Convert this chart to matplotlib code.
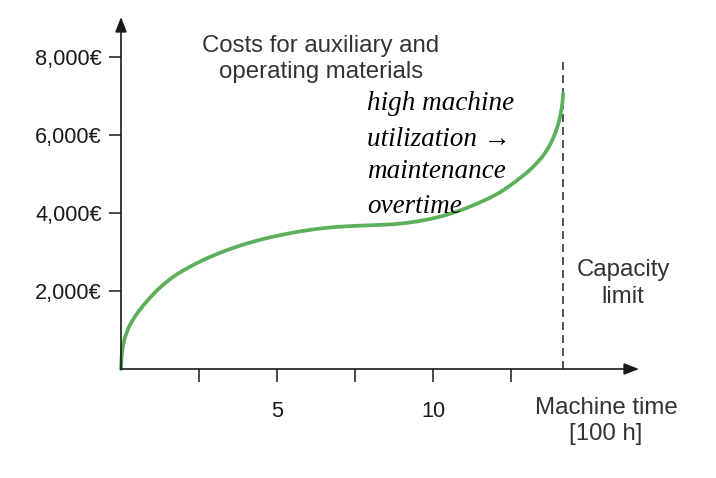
import numpy as np
import matplotlib.pyplot as plt

# Points (machine time in 100 h, cost in €)
machine_time = [0.0, 0.02, 0.064, 0.128, 0.234, 0.343, 0.5, 0.715, 0.93, 1.144,
                1.35, 1.571, 1.78, 1.997, 2.2, 2.43, 2.7, 2.96, 3.22, 3.49,
                3.75, 4.03, 4.4, 4.78, 5.31, 5.75, 6.16, 6.6, 7.02, 7.45,
                7.88, 8.3, 8.73, 9.1, 9.5, 9.9, 10.3, 10.7, 11.05, 11.4,
                11.8, 12.15, 12.57, 13.0, 13.2, 13.37, 13.52, 13.64, 13.75, 13.85,
                13.94, 14.02, 14.07, 14.12, 14.15, 14.17]
cost = [0, 325, 589, 813, 1046, 1210, 1406, 1632, 1830, 2008,
        2160, 2304, 2421, 2527, 2618, 2715, 2818, 2909, 2994, 3075,
        3147, 3217, 3300, 3376, 3466, 3530, 3579, 3621, 3650, 3668,
        3682, 3694, 3712, 3740, 3785, 3845, 3920, 4020, 4120, 4235,
        4380, 4530, 4760, 5030, 5180, 5320, 5460, 5600, 5750, 5920,
        6100, 6300, 6460, 6680, 6860, 7060]

capacity_limit = 14.18
y_ticks = [2000, 4000, 6000, 8000]
y_labels = ['2,000€', '4,000€', '6,000€', '8,000€']
x_ticks = [2.5, 5, 7.5, 10, 12.5]
x_labels = ['', '5', '', '10', '']

plt.rcParams['font.family'] = ['Liberation Sans', 'DejaVu Sans']

fig = plt.figure(figsize=(7.16, 4.78), dpi=100)
ax = fig.add_axes([121 / 716, 1 - 369 / 478, 518 / 716, 352 / 478])
ax.set_xlim(0, 16.6)
ax.set_ylim(0, 9025)

for s in ax.spines.values():
    s.set_visible(False)

axis_col = '#1a1a1a'
arrow = dict(arrowstyle='-|>,head_length=0.9,head_width=0.35', color=axis_col,
             lw=1.2, shrinkA=0, shrinkB=0)
ax.annotate('', xy=(1, 0), xytext=(0, 0), xycoords='axes fraction', arrowprops=arrow)
ax.annotate('', xy=(0, 1), xytext=(0, 0), xycoords='axes fraction', arrowprops=arrow)

ax.set_yticks(y_ticks, y_labels)
ax.set_xticks(x_ticks, x_labels)
ax.tick_params(axis='y', direction='out', length=8.6, width=1.1, color=axis_col,
               labelsize=15.7, pad=5, labelcolor='#1a1a1a')
ax.tick_params(axis='x', direction='out', length=9.4, width=1.1, color=axis_col,
               labelsize=15.7, pad=13.5, labelcolor='#1a1a1a')

# capacity limit
ax.plot([capacity_limit, capacity_limit], [0, 7870], ls=(0, (4.4, 2.8)),
        color='#444444', lw=1.3)

# cost curve
ax.plot(machine_time, cost, color='#5cb05c', lw=2.7, solid_capstyle='round',
        solid_joinstyle='round', clip_on=False)

txt = '#333333'
fig.text(321 / 716, 1 - 59 / 478, 'Costs for auxiliary and\noperating materials',
         ha='center', va='center', fontsize=17.3, color=txt, linespacing=1.25)
fig.text(623 / 716, 1 - 283.5 / 478, 'Capacity\nlimit', ha='center', va='center',
         fontsize=17.3, color=txt, linespacing=1.3)
fig.text(606 / 716, 1 - 421 / 478, 'Machine time\n[100 h]', ha='center', va='center',
         fontsize=17.3, color=txt, linespacing=1.25)

hand = ['high machine', 'utilization →', 'maintenance', 'overtime']
hand_y = [103, 139, 171, 206]
for t, yy in zip(hand, hand_y):
    fig.text(367 / 716, 1 - yy / 478, t, ha='left', va='center', fontsize=19.5,
             style='italic', color='black', family=['Liberation Serif', 'DejaVu Serif'])

fig.savefig('out.png', dpi=100)
